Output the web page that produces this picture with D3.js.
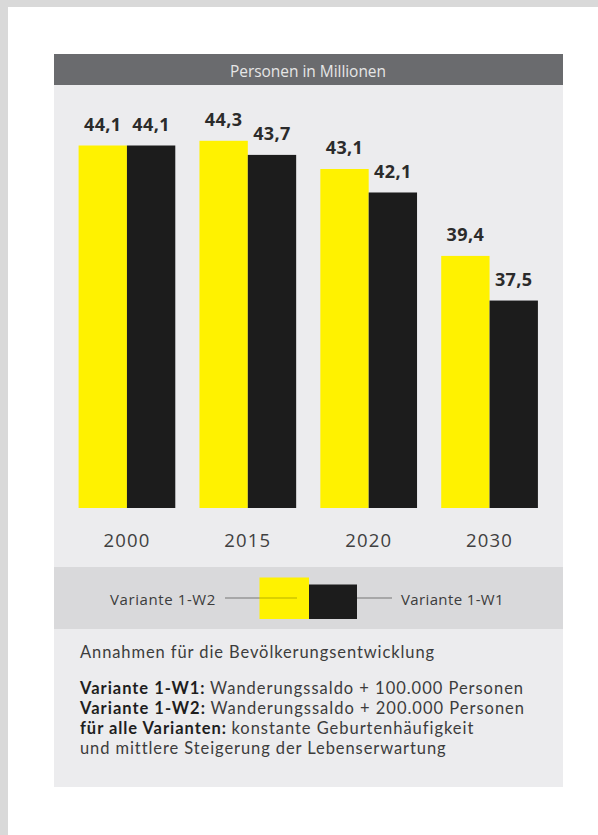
<!DOCTYPE html>
<html>
<head>
<meta charset="utf-8">
<script src="https://cdn.jsdelivr.net/npm/d3@7"></script>
<style>
  html, body { margin: 0; padding: 0; background: #ffffff; }
  svg { display: block; }
</style>
</head>
<body>
<svg id="chart" width="598" height="835"></svg>
<script>
// Population in millions, by year and migration variant
const years = ["2000", "2015", "2020", "2030"];
const seriesNames = ["Variante 1-W2", "Variante 1-W1"];
const valuesW2 = [44.1, 44.3, 43.1, 39.4];
const valuesW1 = [44.1, 43.7, 42.1, 37.5];
const seriesColors = ["#fff200", "#1c1c1c"];
const headerText = "Personen in Millionen";
const notesTitle = "Annahmen für die Bevölkerungsentwicklung";
const notes = [
  { bold: "Variante 1-W1:", text: "Wanderungssaldo + 100.000 Personen" },
  { bold: "Variante 1-W2:", text: "Wanderungssaldo + 200.000 Personen" },
  { bold: "für alle Varianten:", text: "konstante Geburtenhäufigkeit" },
  { bold: "", text: "und mittlere Steigerung der Lebenserwartung" }
];

const svg = d3.select("#chart");
const textFont = "'Open Sans', Lato, sans-serif";
const noteFont = "Lato, 'Open Sans', sans-serif";
const numFont = "'Open Sans', Lato, sans-serif";

// spread a text's letters so that it spans the given width
function fitWidth(node, width) {
  const len = node.getComputedTextLength();
  const n = node.textContent.length;
  if (n > 1) d3.select(node).attr("letter-spacing", (width - len) / n);
}

// page frame
svg.append("rect").attr("x", 0).attr("y", 0).attr("width", 598).attr("height", 835).attr("fill", "#ffffff");
svg.append("rect").attr("x", 0).attr("y", 0).attr("width", 598).attr("height", 7).attr("fill", "#d9d9d9");
svg.append("rect").attr("x", 0).attr("y", 0).attr("width", 8).attr("height", 835).attr("fill", "#d9d9d9");

const panel = { left: 54, right: 563, top: 54, bottom: 787 };

// panel background
svg.append("rect")
  .attr("x", panel.left).attr("y", panel.top)
  .attr("width", panel.right - panel.left).attr("height", panel.bottom - panel.top)
  .attr("fill", "#ececee");

// header bar
svg.append("rect")
  .attr("x", panel.left).attr("y", panel.top)
  .attr("width", panel.right - panel.left).attr("height", 31)
  .attr("fill", "#6a6b6e");
const hdr = svg.append("text")
  .attr("x", 230).attr("y", 76.5)
  .attr("font-family", textFont).attr("font-size", 15.5)
  .attr("fill", "#e6e6e6")
  .text(headerText);
fitWidth(hdr.node(), 156);

// scales
const x0 = d3.scaleBand().domain(years).range([66.5, 550]).paddingInner(0.2).paddingOuter(0.1);
const x1 = d3.scaleBand().domain(seriesNames).range([0, x0.bandwidth()]);
const baseline = 508;
const y = d3.scaleLinear().domain([28.67, 44.1]).range([baseline, 145.5]);

const rows = years.map((yr, i) => ({ year: yr, vals: [
  { name: seriesNames[0], v: valuesW2[i], c: seriesColors[0] },
  { name: seriesNames[1], v: valuesW1[i], c: seriesColors[1] }
]}));

const groups = svg.append("g").selectAll("g")
  .data(rows).join("g")
  .attr("transform", d => `translate(${x0(d.year)},0)`);

groups.selectAll("rect")
  .data(d => d.vals).join("rect")
  .attr("x", d => x1(d.name))
  .attr("y", d => y(d.v))
  .attr("width", x1.bandwidth())
  .attr("height", d => baseline - y(d.v))
  .attr("fill", d => d.c);

const fmt = v => d3.format(".1f")(v).replace(".", ",");
groups.selectAll("text.val")
  .data(d => d.vals).join("text")
  .attr("class", "val")
  .attr("x", d => x1(d.name) + x1.bandwidth() / 2)
  .attr("y", d => y(d.v) - 14.5)
  .attr("text-anchor", "middle")
  .attr("font-family", numFont).attr("font-weight", 700).attr("font-size", 18)
  .attr("letter-spacing", 0.4)
  .attr("fill", "#2b2b2b")
  .text(d => fmt(d.v));

// year axis
const xAxis = svg.append("g")
  .attr("transform", `translate(0,${baseline})`)
  .call(d3.axisBottom(x0).tickSize(0).tickPadding(0));
xAxis.select(".domain").remove();
xAxis.selectAll("text")
  .attr("dy", null)
  .attr("y", 39)
  .attr("font-family", numFont).attr("font-size", 18.5)
  .attr("letter-spacing", 1.2)
  .attr("fill", "#404040");

// legend strip
svg.append("rect")
  .attr("x", panel.left).attr("y", 567)
  .attr("width", panel.right - panel.left).attr("height", 62)
  .attr("fill", "#d9d9db");
const lg = svg.append("g");
lg.append("line").attr("x1", 225).attr("x2", 297).attr("y1", 598).attr("y2", 598)
  .attr("stroke", "#777").attr("stroke-width", 1.2);
lg.append("line").attr("x1", 357).attr("x2", 392).attr("y1", 598).attr("y2", 598)
  .attr("stroke", "#777").attr("stroke-width", 1.2);
lg.append("rect").attr("x", 259.5).attr("y", 577.5).attr("width", 49.5).attr("height", 41.5)
  .attr("fill", seriesColors[0]);
lg.append("rect").attr("x", 309).attr("y", 584.5).attr("width", 48).attr("height", 34.5)
  .attr("fill", seriesColors[1]);
// leader line continues over the yellow swatch
lg.append("line").attr("x1", 259.5).attr("x2", 297).attr("y1", 598).attr("y2", 598)
  .attr("stroke", "#8a8600").attr("stroke-width", 1.2).attr("opacity", 0.6);
const lgL = lg.append("text").attr("x", 110).attr("y", 605)
  .attr("font-family", textFont).attr("font-size", 15).attr("fill", "#3c3c3c")
  .text(seriesNames[0]);
fitWidth(lgL.node(), 106);
const lgR = lg.append("text").attr("x", 401).attr("y", 605)
  .attr("font-family", textFont).attr("font-size", 15).attr("fill", "#3c3c3c")
  .text(seriesNames[1]);
fitWidth(lgR.node(), 103);

// notes
const title = svg.append("text").attr("x", 80).attr("y", 658)
  .attr("font-family", noteFont).attr("font-size", 16.5).attr("fill", "#3c3c3c")
  .text(notesTitle);
fitWidth(title.node(), 355);

const noteWidths = [444, 445, 394, 366];
const noteBase = [694, 714, 734, 754];
const noteLeft = 80;
const notesG = svg.append("g");
notes.forEach((d, i) => {
  const line = notesG.append("g");
  const b = line.append("text")
    .attr("x", noteLeft).attr("y", noteBase[i])
    .attr("font-family", noteFont).attr("font-size", 16.5)
    .attr("font-weight", 700).attr("fill", "#1e1e1e")
    .text(d.bold);
  const t = line.append("text")
    .attr("y", noteBase[i])
    .attr("font-family", noteFont).attr("font-size", 16.5).attr("fill", "#3c3c3c")
    .text(d.text);
  const gap = d.bold ? 4.5 : 0;
  const b0 = d.bold ? b.node().getComputedTextLength() : 0;
  const t0 = t.node().getComputedTextLength();
  const n = d.bold.length + d.text.length;
  const ls = (noteWidths[i] - b0 - t0 - gap) / n;
  b.attr("letter-spacing", ls);
  t.attr("letter-spacing", ls);
  const bw = d.bold ? b.node().getComputedTextLength() : 0;
  t.attr("x", noteLeft + bw + gap);
});
</script>
</body>
</html>
